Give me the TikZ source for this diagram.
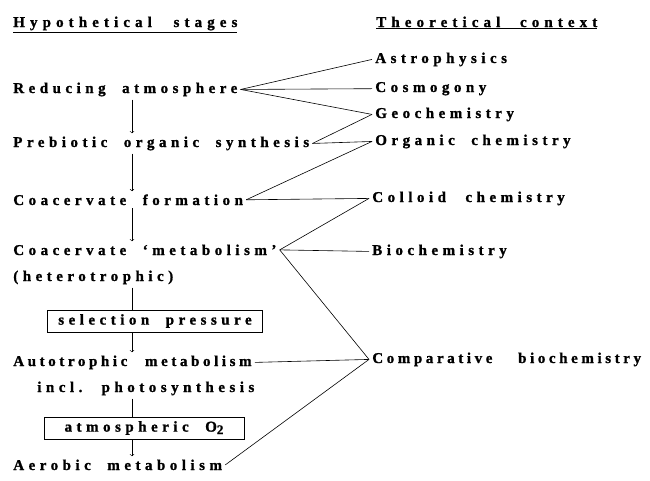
\documentclass[tikz,border=0pt]{standalone}
\usepackage{fontspec}
\setmainfont{Liberation Serif}[LetterSpace=30,WordSpace=2,BoldFeatures={FakeBold=1.2}]
\begin{document}
\begin{tikzpicture}[x=1pt,y=-1pt,line width=0.6pt,
    every node/.style={font=\bfseries\fontsize{15}{17}\selectfont,inner sep=3pt},
    stage/.style={anchor=base west},
    field/.style={anchor=base west},
    heading/.style={anchor=base west,font=\bfseries\fontsize{15}{17}\selectfont\addfontfeature{LetterSpace=34}},
    gate/.style={draw,minimum height=22}]
  \useasboundingbox (0,0) rectangle (650,480);
  \coordinate (axis) at (132,0);
  \node[heading] (hyp) at (10,27) {\underline{Hypothetical\hspace{4pt} stages}};
  \node[stage] (reduce) at (10,93) {Reducing atmosphere};
  \node[stage] (prebio) at (10,147) {Prebiotic organic synthesis};
  \node[stage] (coform) at (10,205) {Coacervate formation};
  \node[stage] (cometab) at (10,255) {Coacervate `metabolism'};
  \node[stage] (hetero) at (10,281) {(heterotrophic)};
  \node[gate,minimum width=215] (select) at (155,321) {selection pressure};
  \node[stage] (auto) at (10,366) {\addfontfeature{LetterSpace=24}Autotrophic\hspace{3pt} metabolism};
  \node[stage] (photo) at (34,392) {incl. photosynthesis};
  \node[gate,minimum width=200] (oxy) at (144,428) {atmospheric O\raisebox{-0.35ex}{\fontsize{13}{13}\selectfont 2}};
  \node[stage] (aerobic) at (10,470) {Aerobic metabolism};
  \node[heading] (theo) at (373,27) {\underline{Theoretical\hspace{2pt} context}};
  \node[field] (astro) at (372,63) {Astrophysics};
  \node[field] (cosmo) at (372,92) {Cosmogony};
  \node[field] (geo) at (372,118) {Geochemistry};
  \node[field] (organic) at (372,145) {Organic chemistry};
  \node[field] (colloid) at (369,202) {Colloid\hspace{3pt} chemistry};
  \node[field] (bio) at (369,255) {Biochemistry};
  \node[field] (comp) at (369,363) {\addfontfeature{LetterSpace=24}Comparative\hspace{11pt} biochemistry};
  \draw[->] (reduce.south -| axis) -- (prebio.north -| axis);
  \draw[->] (prebio.south -| axis) -- (coform.north -| axis);
  \draw[->] (coform.south -| axis) -- (cometab.north -| axis);
  \draw (hetero.south -| axis) -- (select.north -| axis);
  \draw[->] (select.south -| axis) -- (auto.north -| axis);
  \draw (photo.south -| axis) -- (oxy.north -| axis);
  \draw[->] (oxy.south -| axis) -- (aerobic.north -| axis);
  \draw (reduce.east) -- (astro.west);
  \draw (reduce.east) -- (cosmo.west);
  \draw (reduce.east) -- (geo.west);
  \draw (prebio.east) -- (geo.west);
  \draw (prebio.east) -- (organic.west);
  \draw (coform.east) -- (organic.west);
  \draw (coform.east) -- (colloid.west);
  \draw (cometab.east) -- (colloid.west);
  \draw (cometab.east) -- (bio.west);
  \draw (cometab.east) -- (comp.west);
  \draw (auto.east) -- (comp.west);
  \draw (aerobic.east) -- (comp.west);
\end{tikzpicture}
\end{document}
